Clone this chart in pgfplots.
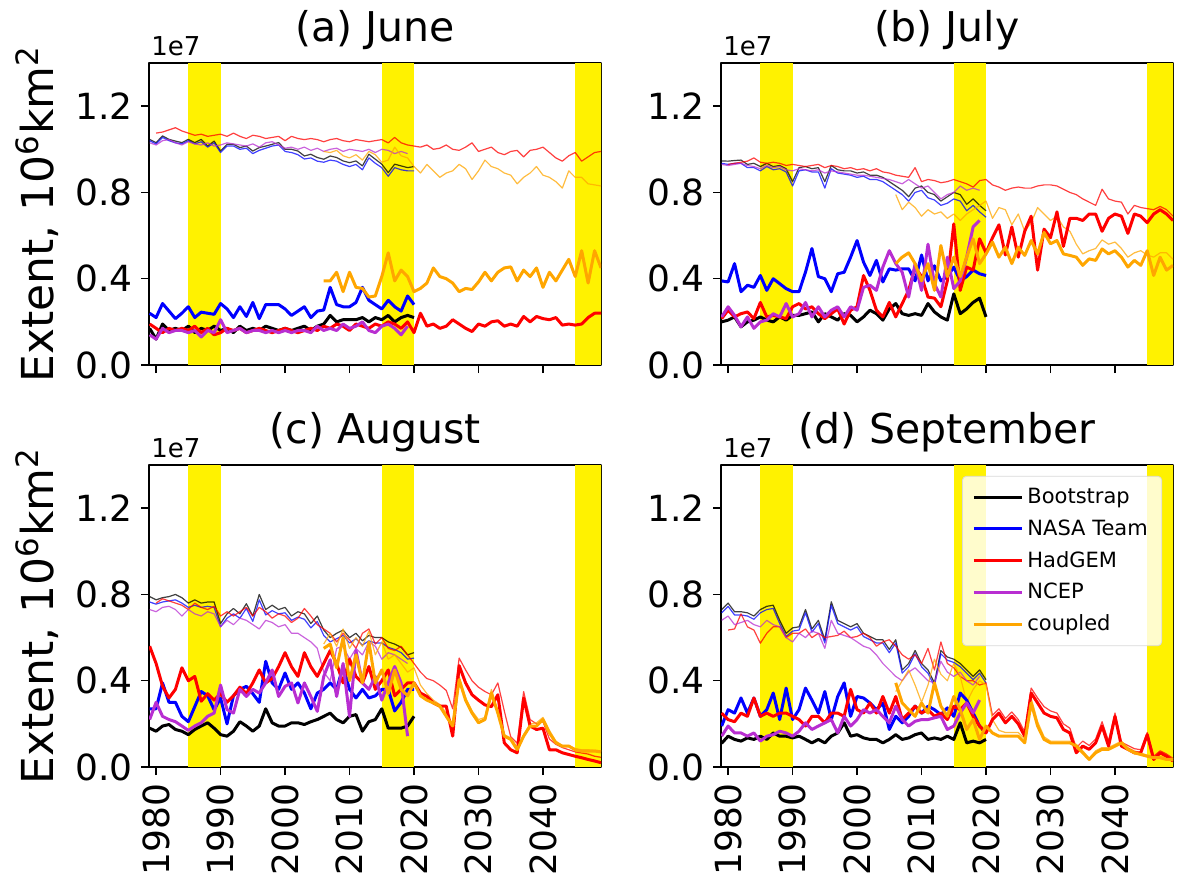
\documentclass[border=0pt]{standalone}
\usepackage{fontspec}
\setmainfont{DejaVu Sans}
\usepackage{pgfplots}
\pgfplotsset{compat=1.18}
\usepackage{pgfplotstable}

\definecolor{bsc}{rgb}{0,0,0}
\definecolor{ntc}{rgb}{0,0,1}
\definecolor{hgc}{rgb}{1,0,0}
\definecolor{ncc}{rgb}{0.72,0.18,0.82}
\definecolor{cpc}{rgb}{1,0.65,0}

% extent in units of 1e7 km^2; thick series, then the thin (T) series
\pgfplotstableread{
yr bs nt hg nc cp bsT ntT hgT ncT cpT
1979 0.17 0.24 0.19 0.14 nan 1.046 1.040 nan 1.030 nan
1980 0.12 0.22 0.17 0.12 nan 1.031 1.025 1.075 1.020 nan
1981 0.19 0.285 0.15 0.17 nan 1.062 1.055 1.080 1.040 nan
1982 0.16 0.25 0.17 0.15 nan 1.046 1.040 1.090 1.045 nan
1983 0.17 0.215 0.16 0.16 nan 1.038 1.030 1.100 1.030 nan
1984 0.16 0.24 0.17 0.16 nan 1.031 1.025 1.085 1.020 nan
1985 0.18 0.27 0.16 0.15 nan 1.046 1.040 1.075 1.035 nan
1986 0.15 0.22 0.18 0.16 nan 1.031 1.025 1.065 1.025 nan
1987 0.17 0.245 0.15 0.13 nan 1.046 1.035 1.070 1.020 nan
1988 0.16 0.24 0.17 0.16 nan 1.015 1.010 1.060 1.030 nan
1989 0.18 0.235 0.14 0.15 nan 1.038 1.030 1.065 1.015 nan
1990 0.16 0.285 0.15 0.21 nan 0.992 0.985 1.070 1.020 nan
1991 0.17 0.26 0.17 0.15 nan 1.023 1.015 1.060 1.030 nan
1992 0.15 0.22 0.16 0.16 nan 1.023 1.015 1.075 1.025 nan
1993 0.18 0.27 0.17 0.17 nan 1.008 1.000 1.060 1.020 nan
1994 0.16 0.225 0.15 0.15 nan 1.015 1.005 1.050 1.015 nan
1995 0.17 0.29 0.16 0.16 nan 0.992 0.980 1.065 1.025 nan
1996 0.16 0.215 0.17 0.16 nan 1.008 0.995 1.060 1.010 nan
1997 0.18 0.28 0.16 0.15 nan 1.015 1.005 1.050 1.030 nan
1998 0.17 0.28 0.15 0.16 nan 1.023 1.015 1.055 1.035 nan
1999 0.16 0.28 0.16 0.15 nan 1.031 1.020 1.060 1.020 nan
2000 0.17 0.26 0.17 0.16 nan 1.000 0.990 1.040 1.005 nan
2001 0.16 0.23 0.16 0.15 nan 1.000 0.985 1.060 1.010 nan
2002 0.17 0.25 0.15 0.16 nan 0.992 0.975 1.050 1.000 nan
2003 0.18 0.27 0.16 0.16 nan 0.969 0.955 1.045 1.010 nan
2004 0.16 0.22 0.17 0.15 nan 0.977 0.960 1.050 0.995 nan
2005 0.18 0.25 0.16 0.18 nan 0.962 0.945 1.045 1.005 nan
2006 0.19 0.255 0.18 0.16 0.39 0.954 0.940 1.035 0.990 0.990
2007 0.23 0.36 0.17 0.17 0.39 0.969 0.950 1.045 1.000 0.985
2008 0.20 0.28 0.19 0.16 0.43 0.962 0.945 1.050 1.005 0.995
2009 0.21 0.27 0.18 0.19 0.34 0.946 0.930 1.040 0.990 0.970
2010 0.21 0.27 0.16 0.17 0.43 0.938 0.920 1.035 1.000 0.960
2011 0.21 0.29 0.19 0.18 0.36 0.946 0.930 1.045 0.995 0.975
2012 0.22 0.36 0.18 0.20 0.355 0.923 0.905 1.040 0.990 0.950
2013 0.20 0.30 0.17 0.16 0.315 0.977 0.960 1.035 1.000 0.990
2014 0.22 0.28 0.19 0.15 0.32 0.954 0.935 1.040 0.985 0.975
2015 0.21 0.26 0.18 0.18 0.41 0.931 0.915 1.045 1.000 0.940
2016 0.23 0.30 0.20 0.19 0.52 0.892 0.875 1.030 0.995 0.950
2017 0.20 0.27 0.19 0.17 0.39 0.931 0.915 1.055 0.980 1.010
2018 0.22 0.25 0.17 0.14 0.44 0.923 0.905 1.030 0.990 0.970
2019 0.23 0.32 0.20 0.18 0.41 0.915 0.900 1.020 0.980 0.960
2020 0.22 0.28 0.15 nan 0.34 0.920 0.900 1.015 nan 0.920
2021 nan nan 0.24 nan 0.355 nan nan 1.010 nan 0.890
2022 nan nan 0.18 nan 0.38 nan nan 1.020 nan 0.930
2023 nan nan 0.19 nan 0.45 nan nan 1.000 nan 0.900
2024 nan nan 0.17 nan 0.41 nan nan 1.005 nan 0.870
2025 nan nan 0.18 nan 0.40 nan nan 1.020 nan 0.890
2026 nan nan 0.21 nan 0.38 nan nan 1.000 nan 0.900
2027 nan nan 0.19 nan 0.34 nan nan 0.995 nan 0.930
2028 nan nan 0.17 nan 0.355 nan nan 1.010 nan 0.910
2029 nan nan 0.155 nan 0.35 nan nan 1.030 nan 0.860
2030 nan nan 0.19 nan 0.385 nan nan 0.990 nan 0.900
2031 nan nan 0.18 nan 0.43 nan nan 1.000 nan 0.950
2032 nan nan 0.20 nan 0.39 nan nan 1.010 nan 0.920
2033 nan nan 0.205 nan 0.43 nan nan 0.985 nan 0.910
2034 nan nan 0.18 nan 0.45 nan nan 0.975 nan 0.890
2035 nan nan 0.19 nan 0.455 nan nan 0.990 nan 0.880
2036 nan nan 0.18 nan 0.39 nan nan 0.995 nan 0.840
2037 nan nan 0.225 nan 0.44 nan nan 0.965 nan 0.870
2038 nan nan 0.20 nan 0.41 nan nan 0.995 nan 0.890
2039 nan nan 0.225 nan 0.45 nan nan 1.000 nan 0.920
2040 nan nan 0.215 nan 0.36 nan nan 1.010 nan 0.880
2041 nan nan 0.21 nan 0.43 nan nan 0.985 nan 0.870
2042 nan nan 0.22 nan 0.39 nan nan 0.960 nan 0.850
2043 nan nan 0.185 nan 0.44 nan nan 0.945 nan 0.820
2044 nan nan 0.19 nan 0.49 nan nan 0.970 nan 0.900
2045 nan nan 0.185 nan 0.41 nan nan 0.985 nan 0.870
2046 nan nan 0.19 nan 0.53 nan nan 0.945 nan 0.870
2047 nan nan 0.22 nan 0.38 nan nan 0.965 nan 0.840
2048 nan nan 0.24 nan 0.53 nan nan 0.985 nan 0.835
2049 nan nan 0.24 nan 0.45 nan nan 0.990 nan 0.830
}\jun

\pgfplotstableread{
yr bs nt hg nc cp bsT ntT hgT ncT cpT
1979 0.200 0.390 0.215 0.223 nan 0.946 0.935 nan 0.930 nan
1980 0.208 0.385 0.254 0.270 nan 0.945 0.930 0.930 0.925 nan
1981 0.223 0.470 0.223 0.230 nan 0.948 0.935 0.935 0.930 nan
1982 0.177 0.340 0.238 0.177 nan 0.950 0.935 0.940 0.935 nan
1983 0.200 0.370 0.246 0.223 nan 0.930 0.915 0.945 0.925 nan
1984 0.208 0.360 0.215 0.170 nan 0.935 0.915 0.960 0.920 nan
1985 0.223 0.415 0.290 0.200 nan 0.920 0.900 0.940 0.910 nan
1986 0.208 0.346 0.223 0.208 nan 0.935 0.920 0.935 0.925 nan
1987 0.200 0.400 0.230 0.238 nan 0.920 0.905 0.940 0.915 nan
1988 0.223 0.377 0.223 0.223 nan 0.925 0.910 0.935 0.920 nan
1989 0.208 0.354 0.215 0.285 nan 0.910 0.895 0.925 0.905 nan
1990 0.230 0.340 0.270 0.223 nan 0.850 0.830 0.930 0.900 nan
1991 0.230 0.340 0.285 0.238 nan 0.915 0.900 0.925 0.910 nan
1992 0.238 0.430 0.260 0.290 nan 0.920 0.905 0.920 0.905 nan
1993 0.246 0.540 0.270 0.223 nan 0.910 0.895 0.925 0.900 nan
1994 0.200 0.410 0.238 0.270 nan 0.915 0.895 0.930 0.905 nan
1995 0.238 0.400 0.215 0.223 nan 0.850 0.820 0.915 0.890 nan
1996 0.223 0.340 0.238 0.254 nan 0.925 0.910 0.925 0.900 nan
1997 0.208 0.423 0.260 0.270 nan 0.905 0.890 0.920 0.895 nan
1998 0.238 0.430 0.190 0.223 nan 0.900 0.885 0.910 0.890 nan
1999 0.230 0.500 0.254 0.270 nan 0.900 0.880 0.915 0.885 nan
2000 0.200 0.577 0.270 0.254 nan 0.890 0.870 0.905 0.880 nan
2001 0.223 0.477 0.415 0.360 nan 0.895 0.875 0.910 0.880 nan
2002 0.254 0.415 0.346 0.370 nan 0.880 0.860 0.900 0.875 nan
2003 0.238 0.485 0.254 0.346 nan 0.880 0.860 0.910 0.870 nan
2004 0.208 0.385 0.223 0.454 nan 0.870 0.850 0.895 0.865 nan
2005 0.260 0.446 0.290 0.530 nan 0.850 0.830 0.890 0.860 nan
2006 0.285 0.440 0.223 0.470 0.470 0.830 0.810 0.880 0.850 0.790
2007 0.238 0.446 0.285 0.430 0.500 0.810 0.790 0.875 0.840 0.720
2008 0.230 0.446 0.346 0.315 0.520 0.780 0.760 0.870 0.860 0.755
2009 0.238 0.390 0.454 0.470 0.470 0.820 0.800 0.915 0.840 0.730
2010 0.230 0.510 0.410 0.346 0.390 0.830 0.810 0.850 0.820 0.690
2011 0.285 0.390 0.315 0.560 0.470 0.800 0.775 0.860 0.830 0.720
2012 0.246 0.460 0.310 0.377 0.346 0.790 0.765 0.855 0.800 0.700
2013 0.223 0.390 0.270 0.315 0.554 0.760 0.740 0.845 0.770 0.710
2014 0.208 0.410 0.390 0.500 0.410 0.780 0.750 0.850 0.790 0.680
2015 0.330 0.454 0.654 0.354 0.500 0.800 0.770 0.860 0.800 0.700
2016 0.238 0.390 0.346 0.390 0.410 0.790 0.760 0.850 0.830 0.670
2017 0.260 0.410 0.454 0.500 0.500 0.745 0.715 0.840 0.810 0.700
2018 0.290 0.440 0.440 0.640 0.585 0.770 0.740 0.825 0.820 0.720
2019 0.310 0.423 0.585 0.670 0.470 0.740 0.710 0.855 0.810 0.740
2020 0.223 0.415 0.520 nan 0.515 0.715 0.685 0.860 nan 0.760
2021 nan nan 0.590 nan 0.570 nan nan 0.835 nan 0.680
2022 nan nan 0.650 nan 0.500 nan nan 0.825 nan 0.730
2023 nan nan 0.510 nan 0.546 nan nan 0.810 nan 0.720
2024 nan nan 0.640 nan 0.470 nan nan 0.820 nan 0.650
2025 nan nan 0.500 nan 0.546 nan nan 0.825 nan 0.700
2026 nan nan 0.620 nan 0.508 nan nan 0.820 nan 0.620
2027 nan nan 0.690 nan 0.577 nan nan 0.820 nan 0.660
2028 nan nan 0.440 nan 0.515 nan nan 0.830 nan 0.730
2029 nan nan 0.630 nan 0.615 nan nan 0.835 nan 0.700
2030 nan nan 0.590 nan 0.562 nan nan 0.835 nan 0.670
2031 nan nan 0.710 nan 0.577 nan nan 0.830 nan 0.690
2032 nan nan 0.550 nan 0.515 nan nan 0.815 nan 0.640
2033 nan nan 0.680 nan 0.508 nan nan 0.800 nan 0.620
2034 nan nan 0.680 nan 0.500 nan nan 0.790 nan 0.560
2035 nan nan 0.670 nan 0.462 nan nan 0.770 nan 0.515
2036 nan nan 0.700 nan 0.492 nan nan 0.755 nan 0.530
2037 nan nan 0.700 nan 0.485 nan nan 0.740 nan 0.540
2038 nan nan 0.620 nan 0.538 nan nan 0.815 nan 0.580
2039 nan nan 0.680 nan 0.515 nan nan 0.770 nan 0.560
2040 nan nan 0.700 nan 0.530 nan nan 0.760 nan 0.570
2041 nan nan 0.690 nan 0.500 nan nan 0.755 nan 0.540
2042 nan nan 0.610 nan 0.454 nan nan 0.700 nan 0.500
2043 nan nan 0.700 nan 0.485 nan nan 0.740 nan 0.520
2044 nan nan 0.690 nan 0.462 nan nan 0.730 nan 0.530
2045 nan nan 0.660 nan 0.530 nan nan 0.725 nan 0.510
2046 nan nan 0.700 nan 0.415 nan nan 0.720 nan 0.500
2047 nan nan 0.720 nan 0.500 nan nan 0.735 nan 0.520
2048 nan nan 0.700 nan 0.440 nan nan 0.720 nan 0.520
2049 nan nan 0.670 nan 0.462 nan nan 0.690 nan 0.490
}\jul

\pgfplotstableread{
yr bs nt hg nc cp bsT ntT hgT ncT cpT
1979 0.180 0.270 0.560 0.220 nan 0.790 0.765 nan 0.730 nan
1980 0.166 0.270 0.480 0.300 nan 0.775 0.755 0.760 0.720 nan
1981 0.190 0.390 0.375 0.235 nan 0.785 0.765 0.780 0.740 nan
1982 0.197 0.300 0.320 0.220 nan 0.790 0.770 0.770 0.745 nan
1983 0.174 0.300 0.360 0.210 nan 0.800 0.775 0.760 0.730 nan
1984 0.166 0.235 0.460 0.190 nan 0.785 0.760 0.750 0.700 nan
1985 0.150 0.210 0.400 0.170 nan 0.760 0.740 0.730 0.730 nan
1986 0.174 0.280 0.420 0.190 nan 0.775 0.750 0.760 0.710 nan
1987 0.190 0.350 0.305 0.205 nan 0.760 0.740 0.740 0.700 nan
1988 0.205 0.330 0.340 0.235 nan 0.765 0.745 0.730 0.720 nan
1989 0.180 0.265 0.310 0.250 nan 0.765 0.740 0.745 0.710 nan
1990 0.150 0.320 0.340 0.380 nan 0.665 0.650 0.700 0.650 nan
1991 0.143 0.200 0.300 0.266 nan 0.710 0.690 0.720 0.680 nan
1992 0.166 0.330 0.330 0.250 nan 0.735 0.710 0.700 0.660 nan
1993 0.210 0.360 0.370 0.360 nan 0.710 0.690 0.720 0.690 nan
1994 0.190 0.374 0.340 0.327 nan 0.757 0.735 0.740 0.680 nan
1995 0.166 0.340 0.390 0.360 nan 0.700 0.675 0.700 0.660 nan
1996 0.190 0.300 0.450 0.343 nan 0.800 0.775 0.740 0.640 nan
1997 0.270 0.490 0.390 0.390 nan 0.730 0.705 0.720 0.680 nan
1998 0.205 0.390 0.410 0.450 nan 0.750 0.725 0.690 0.670 nan
1999 0.190 0.360 0.465 0.327 nan 0.730 0.710 0.710 0.650 nan
2000 0.190 0.436 0.530 0.374 nan 0.740 0.715 0.700 0.660 nan
2001 0.205 0.360 0.465 0.390 nan 0.700 0.680 0.670 0.620 nan
2002 0.205 0.390 0.420 0.297 nan 0.720 0.695 0.690 0.620 nan
2003 0.197 0.343 0.530 0.390 nan 0.710 0.685 0.735 0.600 nan
2004 0.210 0.270 0.465 0.327 nan 0.665 0.645 0.700 0.580 nan
2005 0.220 0.343 0.420 0.258 nan 0.700 0.675 0.660 0.550 nan
2006 0.235 0.360 0.480 0.420 0.550 0.635 0.610 0.640 0.440 0.570
2007 0.250 0.390 0.540 0.497 0.570 0.600 0.580 0.620 0.400 0.620
2008 0.220 0.360 0.480 0.327 0.460 0.620 0.595 0.580 0.550 0.560
2009 0.205 0.466 0.390 0.480 0.600 0.635 0.610 0.620 0.560 0.640
2010 0.235 0.360 0.500 0.235 0.400 0.600 0.575 0.590 0.500 0.550
2011 0.243 0.320 0.420 0.540 0.520 0.620 0.595 0.550 0.550 0.600
2012 0.166 0.360 0.390 0.390 0.390 0.585 0.565 0.620 0.520 0.560
2013 0.210 0.320 0.466 0.360 0.580 0.610 0.585 0.640 0.580 0.630
2014 0.220 0.330 0.360 0.420 0.390 0.600 0.575 0.570 0.560 0.520
2015 0.270 0.360 0.400 0.310 0.450 0.600 0.575 0.600 0.500 0.580
2016 0.180 0.360 0.450 0.390 0.340 0.580 0.555 0.550 0.530 0.500
2017 0.180 0.260 0.330 0.466 0.450 0.570 0.545 0.540 0.520 0.520
2018 0.180 0.300 0.360 0.390 0.360 0.555 0.530 0.560 0.500 0.480
2019 0.190 0.360 0.390 0.143 0.330 0.520 0.500 0.520 0.480 0.440
2020 0.235 0.360 0.390 nan 0.390 0.530 0.505 0.480 nan 0.460
2021 nan nan 0.343 nan 0.330 nan nan 0.440 nan 0.380
2022 nan nan 0.327 nan 0.310 nan nan 0.410 nan 0.340
2023 nan nan 0.297 nan 0.297 nan nan 0.400 nan 0.310
2024 nan nan 0.282 nan 0.282 nan nan 0.380 nan 0.290
2025 nan nan 0.282 nan 0.235 nan nan 0.355 nan 0.250
2026 nan nan 0.143 nan 0.190 nan nan 0.270 nan 0.200
2027 nan nan 0.470 nan 0.405 nan nan 0.505 nan 0.420
2028 nan nan 0.390 nan 0.310 nan nan 0.450 nan 0.320
2029 nan nan 0.335 nan 0.250 nan nan 0.400 nan 0.260
2030 nan nan 0.310 nan 0.205 nan nan 0.370 nan 0.220
2031 nan nan 0.288 nan 0.220 nan nan 0.350 nan 0.230
2032 nan nan 0.280 nan 0.343 nan nan 0.335 nan 0.360
2033 nan nan 0.335 nan 0.250 nan nan 0.390 nan 0.260
2034 nan nan 0.112 nan 0.143 nan nan 0.260 nan 0.150
2035 nan nan 0.080 nan 0.128 nan nan 0.140 nan 0.135
2036 nan nan 0.066 nan 0.080 nan nan 0.110 nan 0.090
2037 nan nan 0.320 nan 0.143 nan nan 0.350 nan 0.150
2038 nan nan 0.190 nan 0.190 nan nan 0.220 nan 0.200
2039 nan nan 0.174 nan 0.190 nan nan 0.200 nan 0.205
2040 nan nan 0.180 nan 0.220 nan nan 0.210 nan 0.230
2041 nan nan 0.080 nan 0.158 nan nan 0.130 nan 0.170
2042 nan nan 0.080 nan 0.112 nan nan 0.105 nan 0.120
2043 nan nan 0.066 nan 0.097 nan nan 0.090 nan 0.100
2044 nan nan 0.058 nan 0.097 nan nan 0.080 nan 0.100
2045 nan nan 0.050 nan 0.080 nan nan 0.070 nan 0.085
2046 nan nan 0.043 nan 0.074 nan nan 0.065 nan 0.080
2047 nan nan 0.035 nan 0.074 nan nan 0.060 nan 0.080
2048 nan nan 0.028 nan 0.074 nan nan 0.050 nan 0.078
2049 nan nan 0.020 nan 0.070 nan nan 0.045 nan 0.075
}\aug

\pgfplotstableread{
yr bs nt hg nc cp bsT ntT hgT ncT cpT
1979 0.110 0.190 0.250 0.143 nan 0.730 0.715 nan 0.680 nan
1980 0.143 0.266 0.220 0.190 nan 0.760 0.745 0.635 0.700 nan
1981 0.128 0.250 0.210 0.158 nan 0.720 0.705 0.640 0.660 nan
1982 0.120 0.320 0.250 0.158 nan 0.720 0.705 0.710 0.670 nan
1983 0.135 0.250 0.235 0.143 nan 0.715 0.700 0.650 0.680 nan
1984 0.128 0.320 0.320 0.158 nan 0.700 0.685 0.635 0.660 nan
1985 0.143 0.235 0.235 0.120 nan 0.730 0.715 0.574 0.650 nan
1986 0.128 0.266 0.250 0.143 nan 0.745 0.730 0.620 0.680 nan
1987 0.158 0.343 0.235 0.150 nan 0.750 0.735 0.650 0.660 nan
1988 0.143 0.220 0.250 0.166 nan 0.680 0.665 0.650 0.650 nan
1989 0.143 0.366 0.250 0.158 nan 0.620 0.605 0.600 0.600 nan
1990 0.135 0.220 0.235 0.143 nan 0.645 0.630 0.620 0.580 nan
1991 0.143 0.266 0.220 0.166 nan 0.650 0.635 0.620 0.620 nan
1992 0.128 0.366 0.190 0.205 nan 0.730 0.715 0.640 0.600 nan
1993 0.112 0.310 0.235 0.174 nan 0.640 0.625 0.600 0.630 nan
1994 0.128 0.250 0.235 0.190 nan 0.680 0.665 0.620 0.620 nan
1995 0.112 0.350 0.205 0.205 nan 0.590 0.575 0.600 0.550 nan
1996 0.143 0.220 0.250 0.220 nan 0.766 0.750 0.605 0.680 nan
1997 0.158 0.327 0.250 0.158 nan 0.680 0.665 0.610 0.620 nan
1998 0.205 0.390 0.235 0.235 nan 0.665 0.650 0.630 0.610 nan
1999 0.143 0.235 0.360 0.190 nan 0.650 0.635 0.600 0.600 nan
2000 0.150 0.327 0.266 0.220 nan 0.665 0.650 0.605 0.580 nan
2001 0.135 0.320 0.250 0.266 nan 0.620 0.605 0.620 0.560 nan
2002 0.128 0.297 0.297 0.250 nan 0.605 0.590 0.600 0.550 nan
2003 0.128 0.266 0.250 0.266 nan 0.590 0.575 0.560 0.520 nan
2004 0.112 0.297 0.327 0.235 nan 0.590 0.575 0.580 0.480 nan
2005 0.128 0.174 0.250 0.205 nan 0.545 0.530 0.590 0.450 nan
2006 0.150 0.235 0.327 0.282 0.390 0.590 0.575 0.560 0.420 0.350
2007 0.128 0.205 0.220 0.220 0.297 0.450 0.435 0.520 0.400 0.400
2008 0.135 0.235 0.250 0.190 0.266 0.480 0.465 0.500 0.440 0.450
2009 0.150 0.282 0.282 0.212 0.235 0.540 0.525 0.520 0.460 0.380
2010 0.158 0.250 0.250 0.220 0.297 0.480 0.465 0.480 0.430 0.300
2011 0.128 0.282 0.266 0.220 0.250 0.450 0.435 0.550 0.400 0.380
2012 0.135 0.266 0.235 0.228 0.390 0.390 0.375 0.450 0.390 0.500
2013 0.128 0.243 0.250 0.235 0.282 0.540 0.525 0.580 0.490 0.430
2014 0.143 0.274 0.220 0.174 0.235 0.510 0.495 0.480 0.440 0.400
2015 0.128 0.235 0.282 0.190 0.327 0.500 0.485 0.460 0.420 0.480
2016 0.205 0.343 0.266 0.250 0.266 0.480 0.465 0.420 0.440 0.420
2017 0.112 0.310 0.297 0.297 0.174 0.450 0.435 0.400 0.400 0.300
2018 0.120 0.250 0.235 0.250 0.220 0.420 0.405 0.400 0.380 0.360
2019 0.112 0.190 0.190 0.310 0.128 0.450 0.435 0.380 0.420 0.400
2020 0.128 0.158 0.158 nan 0.190 0.405 0.390 0.390 nan 0.380
2021 nan nan 0.220 nan 0.158 nan nan 0.240 nan 0.220
2022 nan nan 0.250 nan 0.143 nan nan 0.270 nan 0.170
2023 nan nan 0.205 nan 0.143 nan nan 0.225 nan 0.160
2024 nan nan 0.235 nan 0.143 nan nan 0.255 nan 0.160
2025 nan nan 0.200 nan 0.143 nan nan 0.220 nan 0.160
2026 nan nan 0.143 nan 0.112 nan nan 0.163 nan 0.130
2027 nan nan 0.343 nan 0.297 nan nan 0.366 nan 0.320
2028 nan nan 0.297 nan 0.190 nan nan 0.320 nan 0.210
2029 nan nan 0.250 nan 0.128 nan nan 0.280 nan 0.140
2030 nan nan 0.235 nan 0.112 nan nan 0.260 nan 0.120
2031 nan nan 0.228 nan 0.112 nan nan 0.250 nan 0.120
2032 nan nan 0.174 nan 0.112 nan nan 0.200 nan 0.120
2033 nan nan 0.158 nan 0.112 nan nan 0.180 nan 0.120
2034 nan nan 0.066 nan 0.097 nan nan 0.090 nan 0.105
2035 nan nan 0.097 nan 0.066 nan nan 0.120 nan 0.075
2036 nan nan 0.082 nan 0.035 nan nan 0.100 nan 0.040
2037 nan nan 0.112 nan 0.066 nan nan 0.130 nan 0.075
2038 nan nan 0.190 nan 0.082 nan nan 0.210 nan 0.090
2039 nan nan 0.097 nan 0.082 nan nan 0.120 nan 0.090
2040 nan nan 0.235 nan 0.097 nan nan 0.250 nan 0.105
2041 nan nan 0.097 nan 0.112 nan nan 0.115 nan 0.120
2042 nan nan 0.082 nan 0.082 nan nan 0.100 nan 0.090
2043 nan nan 0.066 nan 0.066 nan nan 0.085 nan 0.075
2044 nan nan 0.066 nan 0.058 nan nan 0.080 nan 0.065
2045 nan nan 0.150 nan 0.050 nan nan 0.160 nan 0.055
2046 nan nan 0.035 nan 0.043 nan nan 0.050 nan 0.050
2047 nan nan 0.066 nan 0.043 nan nan 0.075 nan 0.050
2048 nan nan 0.050 nan 0.035 nan nan 0.060 nan 0.040
2049 nan nan 0.028 nan 0.035 nan nan 0.040 nan 0.040
}\sep

\pgfplotsset{
  panel/.style={
    scale only axis, width=226pt, height=151pt,
    xmin=1978.9, xmax=2049, ymin=0, ymax=1.4,
    xtick={1980,1990,...,2040}, ytick={0,0.4,0.8,1.2},
    tick pos=left, tick align=outside, major tick length=4pt,
    every tick/.style={black, line width=0.7pt},
    axis line style={line width=0.7pt},
    unbounded coords=jump, clip mode=individual,
    /pgf/number format/assume math mode=true,
    yticklabel={\pgfmathprintnumber[fixed,fixed zerofill,precision=1]{\tick}},
    xticklabel={\pgfmathprintnumber[1000 sep={}]{\tick}},
    ticklabel style={font=\fontsize{18}{20}\selectfont},
    yticklabel style={inner xsep=4pt},
    xticklabel style={rotate=90, anchor=east, inner xsep=4pt},
    title style={font=\fontsize{20.5}{24}\selectfont, at={(0.5,1)}, anchor=base, yshift=5pt},
    ylabel style={font=\fontsize{22}{24}\selectfont, at={(ticklabel cs:0.5,7pt)}, anchor=base},
    line join=round,
  },
  thinline/.style={line width=0.6pt, draw opacity=0.75, forget plot},
  thickline/.style={line width=1.5pt},
  band/.style={fill=yellow, draw=none, forget plot},
}

\newcommand{\icelines}[1]{%
  \addplot[band] coordinates {(1985,1.4) (1990,1.4)} \closedcycle;
  \addplot[band] coordinates {(2015,1.4) (2020,1.4)} \closedcycle;
  \addplot[band] coordinates {(2045,1.4) (2050,1.4)} \closedcycle;
  \addplot[thinline, bsc] table[x=yr, y=bsT] {#1};
  \addplot[thinline, ntc] table[x=yr, y=ntT] {#1};
  \addplot[thinline, hgc] table[x=yr, y=hgT] {#1};
  \addplot[thinline, ncc] table[x=yr, y=ncT] {#1};
  \addplot[thinline, cpc] table[x=yr, y=cpT] {#1};
  \addplot[thickline, bsc] table[x=yr, y=bs] {#1};
  \addplot[thickline, ntc] table[x=yr, y=nt] {#1};
  \addplot[thickline, hgc] table[x=yr, y=hg] {#1};
  \addplot[thickline, ncc] table[x=yr, y=nc] {#1};
  \addplot[thickline, cpc] table[x=yr, y=cp] {#1};
  \node[anchor=south west, inner sep=0pt, xshift=1pt, yshift=3.5pt, font=\fontsize{13}{14}\selectfont]
    at (rel axis cs:0,1) {1e7};
}

\begin{document}
\begin{tikzpicture}
\path (0pt,0pt) rectangle (593pt,-442.5pt);

\begin{axis}[panel, at={(74.5pt,-182.5pt)}, title={(a) June}, xticklabels={},
  ylabel={Extent, 10\textsuperscript{6}km\textsuperscript{2}}]
\icelines{\jun}
\end{axis}

\begin{axis}[panel, at={(360.5pt,-182.5pt)}, title={(b) July}, xticklabels={}]
\icelines{\jul}
\end{axis}

\begin{axis}[panel, at={(74.5pt,-383.5pt)}, title={(c) August},
  ylabel={Extent, 10\textsuperscript{6}km\textsuperscript{2}}]
\icelines{\aug}
\end{axis}

\begin{axis}[panel, at={(360.5pt,-383.5pt)}, title={(d) September},
  legend style={at={(0.976,0.964)}, anchor=north east, draw=black!15, fill=white,
    fill opacity=0.8, text opacity=1, rounded corners=2pt,
    font=\fontsize{10.5}{12}\selectfont, row sep=2.5pt, inner xsep=5pt, inner ysep=4pt},
  legend cell align={left},
  legend image code/.code={\draw[#1] (0pt,0pt) -- (24pt,0pt);}]
\icelines{\sep}
\legend{Bootstrap, NASA Team, HadGEM, NCEP, coupled}
\end{axis}
\end{tikzpicture}
\end{document}
